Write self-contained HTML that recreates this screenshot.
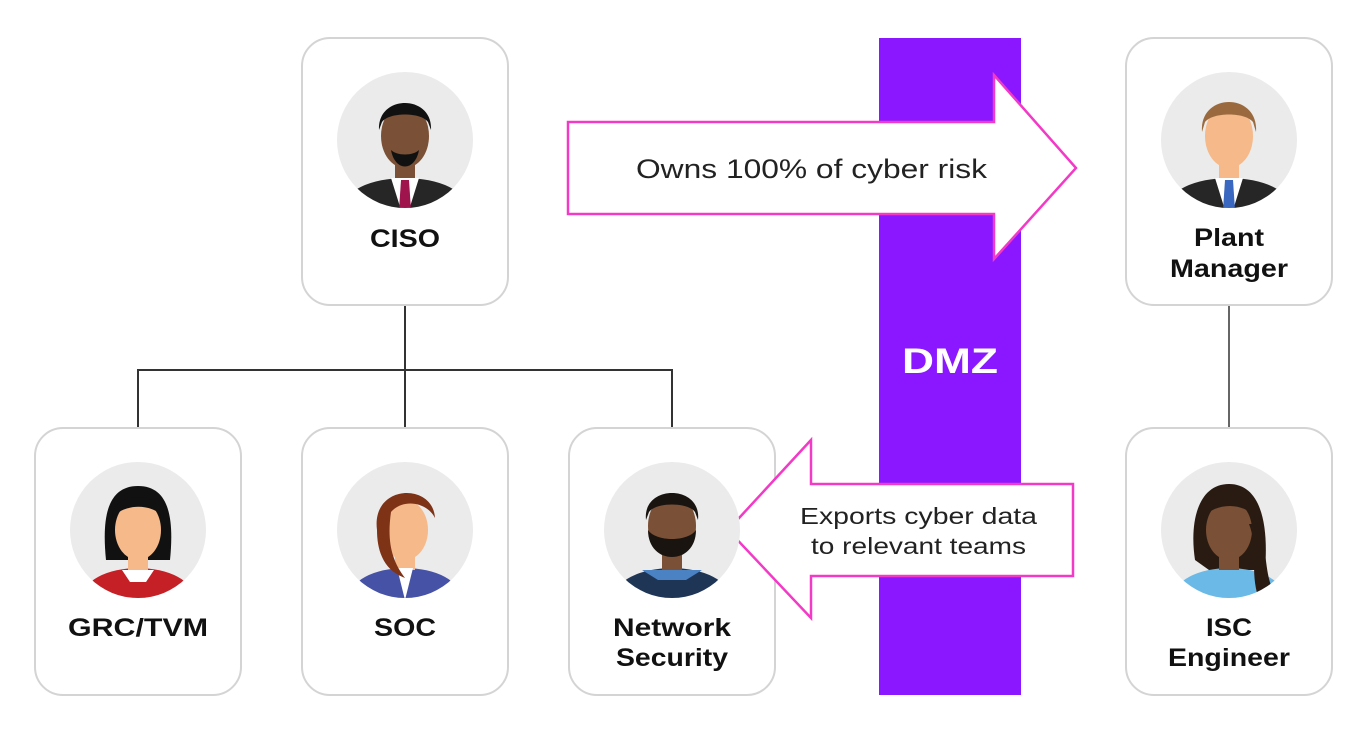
<!DOCTYPE html>
<html><head><meta charset="utf-8"><style>
html,body{margin:0;padding:0;background:#fff;}
svg{display:block;}
text{font-family:"Liberation Sans",sans-serif;}
</style></head><body>
<svg width="1370" height="736" viewBox="0 0 1370 736" xmlns="http://www.w3.org/2000/svg">
<defs><clipPath id="cc"><circle cx="0" cy="0" r="68"/></clipPath></defs>
<rect width="1370" height="736" fill="#fff"/>
<rect x="879" y="38" width="142" height="657" fill="#8a17ff"/>
<text x="950" y="373" font-size="35" font-weight="bold" fill="#fff" text-anchor="middle" textLength="96" lengthAdjust="spacingAndGlyphs">DMZ</text>
<g stroke="#333" stroke-width="2" fill="none">
<line x1="405" y1="305" x2="405" y2="428"/>
<polyline points="138,428 138,370 672,370 672,428"/>
<line x1="1229" y1="305" x2="1229" y2="428" stroke="#666"/>
</g>
<g fill="#fff" stroke="#d4d4d4" stroke-width="2">
<rect x="302" y="38" width="206" height="267" rx="28"/>
<rect x="1126" y="38" width="206" height="267" rx="28"/>
<rect x="35" y="428" width="206" height="267" rx="28"/>
<rect x="302" y="428" width="206" height="267" rx="28"/>
<rect x="569" y="428" width="206" height="267" rx="28"/>
<rect x="1126" y="428" width="206" height="267" rx="28"/>
</g>
<polygon points="568,122 994,122 994,75 1076,168 994,259 994,214 568,214" fill="#fff" stroke="#f23ac6" stroke-width="2.5"/>
<text x="636" y="178" font-size="27" fill="#222" textLength="351" lengthAdjust="spacingAndGlyphs">Owns 100% of cyber risk</text>
<polygon points="1073,484 811,484 811,440 728,530 811,618 811,576 1073,576" fill="#fff" stroke="#f23ac6" stroke-width="2.5"/>
<text x="800" y="524" font-size="23" fill="#222" textLength="237" lengthAdjust="spacingAndGlyphs">Exports cyber data</text>
<text x="811" y="554" font-size="23" fill="#222" textLength="215" lengthAdjust="spacingAndGlyphs">to relevant teams</text>

<g transform="translate(405,140)">
<circle r="68" fill="#ebebeb"/>
<g clip-path="url(#cc)">
<ellipse cx="0" cy="68" rx="62" ry="30" fill="#262626"/>
<rect x="-10" y="18" width="20" height="22" fill="#7a5036"/>
<polygon points="-14,38 14,38 4,70 -4,70" fill="#fff"/>
<polygon points="-4,40 4,40 6,70 -6,70" fill="#a0144e"/>
<ellipse cx="0" cy="-4" rx="24" ry="32" fill="#7a5036"/>
<path d="M-26,-10 C-28,-46 28,-46 26,-10 L23,-18 C16,-28 -16,-28 -23,-18 Z" fill="#111"/>
<path d="M-14,10 C-10,32 10,32 14,10 C8,16 -8,16 -14,10 Z" fill="#111"/>
</g></g>
<g transform="translate(1229,140)">
<circle r="68" fill="#ebebeb"/>
<g clip-path="url(#cc)">
<ellipse cx="0" cy="68" rx="62" ry="30" fill="#262626"/>
<rect x="-10" y="18" width="20" height="22" fill="#f5b98a"/>
<polygon points="-14,38 14,38 4,70 -4,70" fill="#fff"/>
<polygon points="-4,40 4,40 6,70 -6,70" fill="#3a67c0"/>
<ellipse cx="0" cy="-4" rx="24" ry="32" fill="#f5b98a"/>
<path d="M-27,-8 C-30,-48 30,-48 27,-8 L24,-18 C16,-28 -16,-28 -24,-18 Z" fill="#9a6a3e"/>
</g></g>
<g transform="translate(138,530)">
<circle r="68" fill="#ebebeb"/>
<g clip-path="url(#cc)">
<path d="M-32,30 C-36,-10 -32,-44 0,-44 C32,-44 36,-10 32,30 Z" fill="#111"/>
<ellipse cx="0" cy="68" rx="56" ry="30" fill="#c42026"/>
<rect x="-10" y="18" width="20" height="22" fill="#f5b98a"/>
<polygon points="-16,40 16,40 8,52 -8,52" fill="#fff"/>
<ellipse cx="0" cy="0" rx="23" ry="30" fill="#f5b98a"/>
<path d="M-26,-12 C-26,-40 26,-40 26,-12 C16,-26 -12,-28 -26,-12 Z" fill="#111"/>
</g></g>
<g transform="translate(405,530)">
<circle r="68" fill="#ebebeb"/>
<g clip-path="url(#cc)">
<ellipse cx="0" cy="68" rx="56" ry="30" fill="#4652a6"/>
<rect x="-10" y="18" width="20" height="22" fill="#f5b98a"/>
<polygon points="-8,38 8,38 0,70" fill="#fff"/>
<ellipse cx="0" cy="0" rx="23" ry="30" fill="#f5b98a"/>
<path d="M-28,0 C-34,-46 28,-48 30,-12 C22,-28 -2,-32 -14,-18 C-18,10 -14,30 0,48 C-22,40 -28,20 -28,0 Z" fill="#7e3216"/>
</g></g>
<g transform="translate(672,530)">
<circle r="68" fill="#ebebeb"/>
<g clip-path="url(#cc)">
<ellipse cx="0" cy="68" rx="58" ry="30" fill="#1f3555"/>
<polygon points="-30,40 30,40 14,50 -14,50" fill="#4a82c4"/>
<rect x="-10" y="18" width="20" height="22" fill="#7a5036"/>
<ellipse cx="0" cy="-4" rx="24" ry="32" fill="#7a5036"/>
<path d="M-26,-10 C-30,-46 30,-46 26,-10 L23,-18 C16,-28 -16,-28 -23,-18 Z" fill="#1a1410"/>
<path d="M-24,0 C-24,36 24,36 24,0 C16,12 -16,12 -24,0 Z" fill="#1a1410"/>
</g></g>
<g transform="translate(1229,530)">
<circle r="68" fill="#ebebeb"/>
<g clip-path="url(#cc)">
<path d="M-34,30 C-40,-10 -30,-46 0,-46 C30,-46 40,-10 36,40 L20,40 L-20,40 Z" fill="#2a1b12"/>
<ellipse cx="0" cy="68" rx="56" ry="30" fill="#6bb9e6"/>
<rect x="-10" y="18" width="20" height="22" fill="#7a5036"/>
<ellipse cx="0" cy="0" rx="23" ry="30" fill="#7a5036"/>
<path d="M-26,-12 C-26,-40 26,-40 26,-12 C16,-28 -14,-28 -26,-12 Z" fill="#2a1b12"/>
<path d="M24,-6 C40,10 34,40 44,60 L30,70 C20,40 30,20 20,-6 Z" fill="#2a1b12"/>
</g></g>

<g font-size="25" font-weight="bold" fill="#111" text-anchor="middle" lengthAdjust="spacingAndGlyphs">
<text x="405" y="247" textLength="70" lengthAdjust="spacingAndGlyphs">CISO</text>
<text x="1229" y="246" textLength="70" lengthAdjust="spacingAndGlyphs">Plant</text>
<text x="1229" y="277" textLength="118" lengthAdjust="spacingAndGlyphs">Manager</text>
<text x="138" y="636" textLength="140" lengthAdjust="spacingAndGlyphs">GRC/TVM</text>
<text x="405" y="636" textLength="62" lengthAdjust="spacingAndGlyphs">SOC</text>
<text x="672" y="636" textLength="118" lengthAdjust="spacingAndGlyphs">Network</text>
<text x="672" y="666" textLength="112" lengthAdjust="spacingAndGlyphs">Security</text>
<text x="1229" y="636" textLength="46" lengthAdjust="spacingAndGlyphs">ISC</text>
<text x="1229" y="666" textLength="122" lengthAdjust="spacingAndGlyphs">Engineer</text>
</g>
</svg>
</body></html>
